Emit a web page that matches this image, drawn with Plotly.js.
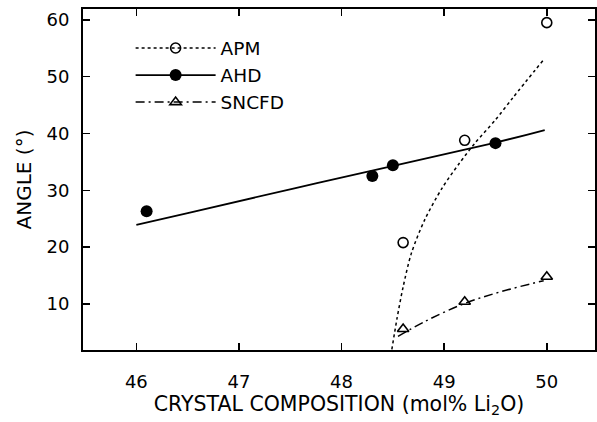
<!DOCTYPE html>
<html><head><meta charset="utf-8">
<script src="https://cdn.plot.ly/plotly-3.0.1.min.js"></script>
<style>html,body{margin:0;padding:0;background:#fff}</style>
</head><body>
<div id="chart" style="width:597px;height:422px"></div>
<script>
// Measured data points
var apmX = [48.6, 49.2, 50.0];
var apmY = [20.8, 38.8, 59.5];
var ahdX = [46.1, 48.3, 48.5, 49.5];
var ahdY = [26.3, 32.5, 34.4, 38.3];
var sncfdX = [48.6, 49.2, 50.0];
var sncfdY = [5.6, 10.4, 14.8];

// Fitted curves
var apmFitX = [48.49, 48.54, 48.60, 48.68, 48.81, 48.98, 49.15, 49.30, 49.50, 49.67, 49.97];
var apmFitY = [2.0, 7.4, 13.0, 18.9, 24.8, 30.4, 34.8, 38.3, 42.4, 46.3, 53.0];
var ahdFitX = [46.0, 46.5, 47.76, 49.48, 49.98];
var ahdFitY = [23.9, 26.0, 31.25, 38.3, 40.6];
var sncfdFitX = [48.55, 48.81, 49.2, 49.56, 49.97];
var sncfdFitY = [4.3, 6.9, 10.1, 12.2, 14.1];

var xTicks = [46, 47, 48, 49, 50];
var yTicks = [10, 20, 30, 40, 50, 60];
var seriesNames = ['APM', 'AHD', 'SNCFD'];

var black = '#000';
var apmLine = {color: black, width: 1.5, dash: 'dot'};
var ahdLine = {color: black, width: 1.8, dash: 'solid'};
var sncfdLine = {color: black, width: 1.5, dash: '9px,4px,2px,4px'};
var apmMarker = {symbol: 'circle-open', size: 10, color: black, line: {width: 1.6, color: black}};
var ahdMarker = {symbol: 'circle', size: 12, color: black};
var sncfdMarker = {symbol: 'triangle-up-open', size: 10, color: black, line: {width: 1.6, color: black}};

var traces = [
  {x: apmFitX, y: apmFitY, mode: 'lines', line: Object.assign({shape: 'spline', smoothing: 0.8}, apmLine), showlegend: false, hoverinfo: 'skip'},
  {x: ahdFitX, y: ahdFitY, mode: 'lines', line: Object.assign({shape: 'spline'}, ahdLine), showlegend: false, hoverinfo: 'skip'},
  {x: sncfdFitX, y: sncfdFitY, mode: 'lines', line: Object.assign({shape: 'spline'}, sncfdLine), showlegend: false, hoverinfo: 'skip'},
  {x: apmX, y: apmY, mode: 'markers', marker: apmMarker, showlegend: false},
  {x: ahdX, y: ahdY, mode: 'markers', marker: ahdMarker, showlegend: false},
  {x: sncfdX, y: sncfdY, mode: 'markers', marker: sncfdMarker, showlegend: false},
  {x: [null], y: [null], name: seriesNames[0], mode: 'lines+markers', line: apmLine, marker: apmMarker},
  {x: [null], y: [null], name: seriesNames[1], mode: 'lines+markers', line: ahdLine, marker: ahdMarker},
  {x: [null], y: [null], name: seriesNames[2], mode: 'lines+markers', line: sncfdLine, marker: sncfdMarker}
];

var font = 'DejaVu Sans, Arial, sans-serif';
var layout = {
  width: 597, height: 422,
  margin: {l: 83, r: 2, t: 9, b: 72},
  paper_bgcolor: '#fff', plot_bgcolor: '#fff',
  font: {family: font, size: 18, color: black},
  showlegend: true,
  legend: {x: 0.093, y: 0.94, xanchor: 'left', yanchor: 'top', bgcolor: 'rgba(0,0,0,0)',
           font: {family: font, size: 18.5, color: black}, itemwidth: 80, tracegroupgap: 0},
  xaxis: {
    range: [45.48, 50.47], tickvals: xTicks, ticktext: xTicks.map(String),
    ticks: 'inside', ticklen: 7, tickwidth: 1.5, tickcolor: black,
    showline: true, linewidth: 2, linecolor: black, mirror: 'ticks',
    showgrid: false, zeroline: false, ticklabelstandoff: 14,
    tickfont: {family: font, size: 18, color: black},
    title: {text: 'CRYSTAL COMPOSITION (mol% Li<sub>2</sub>O)', font: {family: font, size: 20.5, color: black}, standoff: 2},
    automargin: false
  },
  yaxis: {
    range: [1.9, 61.9], tickvals: yTicks, ticktext: yTicks.map(String),
    ticks: 'inside', ticklen: 7, tickwidth: 1.5, tickcolor: black,
    showline: true, linewidth: 2, linecolor: black, mirror: 'ticks',
    showgrid: false, zeroline: false, ticklabelstandoff: 8,
    tickfont: {family: font, size: 18, color: black},
    title: {text: 'ANGLE (°)', font: {family: font, size: 20, color: black}, standoff: 9},
    automargin: false
  }
};

Plotly.newPlot('chart', traces, layout, {staticPlot: true, displayModeBar: false});
</script></body></html>
